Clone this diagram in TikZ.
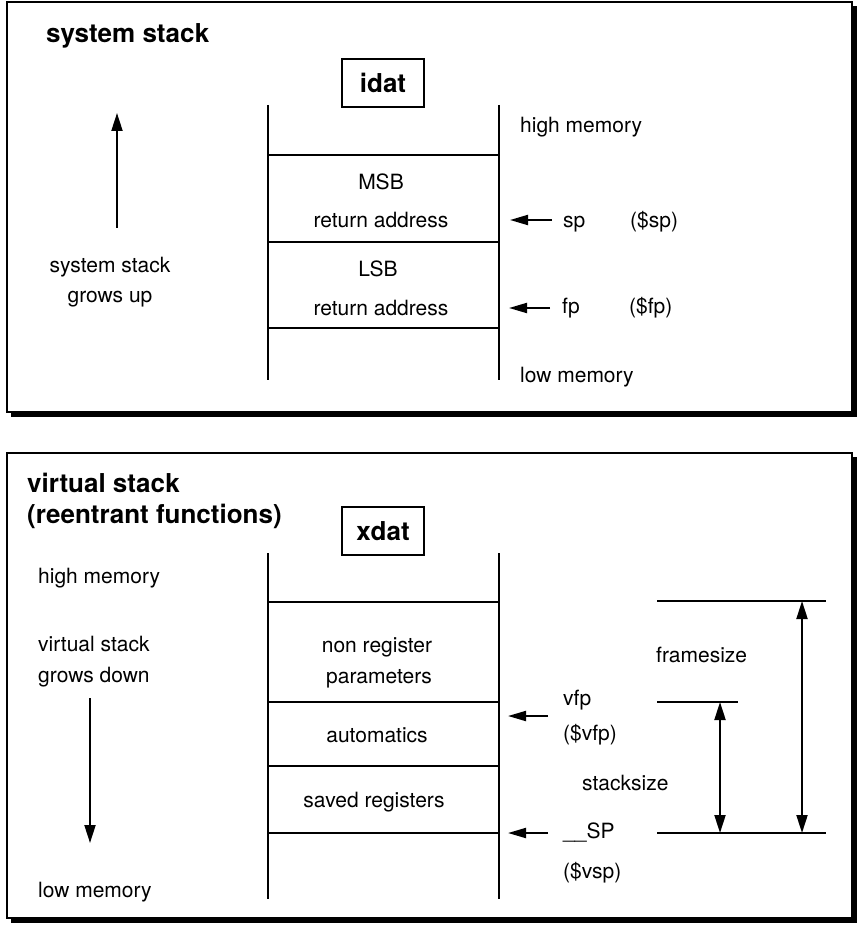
\documentclass[tikz,border=0pt]{standalone}
\usepackage{fontspec}
\setmainfont{TeX Gyre Heros}
\usetikzlibrary{arrows.meta}
\begin{document}
\begin{tikzpicture}[x=1pt,y=-1pt,
  txt/.style={font=\fontsize{21}{25}\selectfont, inner sep=0pt, anchor=base},
  txtl/.style={txt, anchor=base west},
  ttl/.style={font=\fontsize{26}{30}\selectfont\bfseries, inner sep=0pt, anchor=base west},
  segbox/.style={draw, line width=2pt, minimum width=82pt, minimum height=48pt, inner sep=0pt, font=\fontsize{26}{30}\selectfont\bfseries},
  ln/.style={line width=2pt},
  frm/.style={line width=1.6pt, fill=white},
  ptr/.style={line width=2pt, -{Triangle[length=18pt,width=10pt]}},
  bigarr/.style={line width=2pt, -{Triangle[length=18pt,width=11pt]}},
  dbl/.style={line width=2pt, {Triangle[length=18pt,width=11pt]}-{Triangle[length=18pt,width=11pt]}}]
\useasboundingbox (0,0) rectangle (859,925);

% ---------- top panel ----------
\fill (11,6) rectangle (856.5,416.5);
\draw[frm] (7,2) rectangle (852,412);
\node[ttl] (t1) at (46,43) {system stack};
\node[segbox] (idat) at (383,83) {idat};

\coordinate (aTL) at (268,105); \coordinate (aBL) at (268,380);
\coordinate (aTR) at (499,105); \coordinate (aBR) at (499,380);
\draw[ln] (aTL) -- (aBL);
\draw[ln] (aTR) -- (aBR);
\coordinate (a1l) at (268,155); \coordinate (a1r) at (499,155);
\coordinate (a2l) at (268,242); \coordinate (a2r) at (499,242);
\coordinate (a3l) at (268,328); \coordinate (a3r) at (499,328);
\draw[ln] (a1l) -- (a1r);
\draw[ln] (a2l) -- (a2r);
\draw[ln] (a3l) -- (a3r);

\node[txt] (msb) at (381,190) {MSB};
\node[txt] (ra1) at (381,228) {return address};
\node[txt] (lsb) at (378,276) {LSB};
\node[txt] (ra2) at (381,315) {return address};

\node[txtl] (hm1) at (520,133) {high memory};
\node[txtl] (lm1) at (520,382) {low memory};

\coordinate (spA) at (552,220); \coordinate (spB) at (510,220);
\draw[ptr] (spA) -- (spB);
\node[txtl] (sp) at (563,227) {sp};
\node[txtl] (spr) at (630,227) {(\$sp)};

\coordinate (fpA) at (550,308); \coordinate (fpB) at (509,308);
\draw[ptr] (fpA) -- (fpB);
\node[txtl] (fp) at (562,313) {fp};
\node[txtl] (fpr) at (629,313) {(\$fp)};

\coordinate (upA) at (117,228); \coordinate (upB) at (117,113);
\draw[bigarr] (upA) -- (upB);
\node[txt] (ss1) at (110,272) {system stack};
\node[txt] (gu) at (110,302) {grows up};

% ---------- bottom panel ----------
\fill (11,457) rectangle (856.5,923);
\draw[frm] (7,453) rectangle (852,918);
\node[ttl] (t2) at (27,492) {virtual stack};
\node[ttl] (t3) at (27,523) {(reentrant functions)};
\node[segbox] (xdat) at (383,531) {xdat};

\coordinate (bTL) at (268,553); \coordinate (bBL) at (268,899);
\coordinate (bTR) at (499,553); \coordinate (bBR) at (499,899);
\draw[ln] (bTL) -- (bBL);
\draw[ln] (bTR) -- (bBR);
\coordinate (b1l) at (268,602); \coordinate (b1r) at (499,602);
\coordinate (b2l) at (268,702); \coordinate (b2r) at (499,702);
\coordinate (b3l) at (268,766); \coordinate (b3r) at (499,766);
\coordinate (b4l) at (268,833); \coordinate (b4r) at (499,833);
\draw[ln] (b1l) -- (b1r);
\draw[ln] (b2l) -- (b2r);
\draw[ln] (b3l) -- (b3r);
\draw[ln] (b4l) -- (b4r);

\node[txt] (nr) at (377,652) {non register};
\node[txt] (par) at (379,683) {parameters};
\node[txt] (aut) at (377,742) {automatics};
\node[txt] (sr) at (374,807) {saved registers};

\node[txtl] (hm2) at (38,583) {high memory};
\node[txtl] (vs) at (38,651) {virtual stack};
\node[txtl] (gd) at (38,682) {grows down};
\node[txtl] (lm2) at (38,897) {low memory};

\coordinate (dnA) at (90,698); \coordinate (dnB) at (90,843);
\draw[bigarr] (dnA) -- (dnB);

\coordinate (vfA) at (548,716); \coordinate (vfB) at (508,716);
\draw[ptr] (vfA) -- (vfB);
\node[txtl] (vfp) at (563,705) {vfp};
\node[txtl] (vfpr) at (563,740) {(\$vfp)};

\coordinate (SPA) at (548,833); \coordinate (SPB) at (508,833);
\draw[ptr] (SPA) -- (SPB);
\node[txtl] (SP) at (563,838) {\_\_SP};
\node[txtl] (vspr) at (563,878) {(\$vsp)};

\coordinate (d1l) at (657,601); \coordinate (d1r) at (826,601);
\coordinate (d2l) at (657,702); \coordinate (d2r) at (738,702);
\coordinate (d3l) at (657,833); \coordinate (d3r) at (826,833);
\draw[ln] (d1l) -- (d1r);
\draw[ln] (d2l) -- (d2r);
\draw[ln] (d3l) -- (d3r);

\coordinate (ssT) at (720,702); \coordinate (ssB) at (720,833);
\draw[dbl] (ssT) -- (ssB);
\coordinate (fsT) at (802,601); \coordinate (fsB) at (802,833);
\draw[dbl] (fsT) -- (fsB);

\node[txtl] (fs) at (656,662) {framesize};
\node[txtl] (ssz) at (582,790) {stacksize};
\end{tikzpicture}
\end{document}
